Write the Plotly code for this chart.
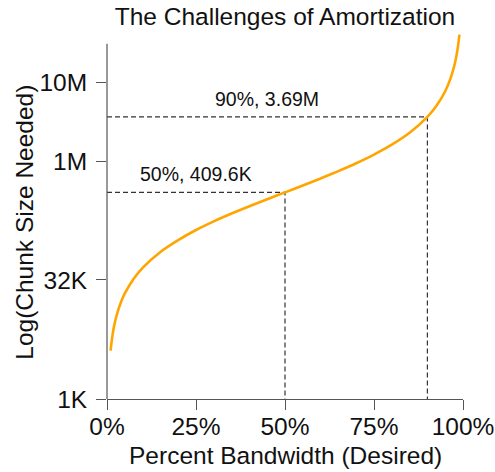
import plotly.graph_objects as go
import math

# Curve (fraction of bandwidth -> chunk size in bytes)
pct_bandwidth = [0.01, 0.015, 0.02, 0.03, 0.04, 0.05, 0.075, 0.10, 0.15, 0.20, 0.25,
                 0.30, 0.35, 0.40, 0.45, 0.50, 0.55, 0.60, 0.65, 0.70, 0.75, 0.80,
                 0.85, 0.90, 0.925, 0.95, 0.965, 0.975, 0.98, 0.985, 0.99]
chunk_size = [4.1e3, 6.2e3, 8.4e3, 12.7e3, 17.1e3, 21.6e3, 33.2e3, 45.5e3, 72.3e3, 102e3, 137e3,
              176e3, 221e3, 273e3, 335e3, 409.6e3, 501e3, 614e3, 761e3, 956e3, 1.23e6, 1.64e6,
              2.32e6, 3.69e6, 5.05e6, 7.78e6, 11.3e6, 16.0e6, 20.1e6, 26.9e6, 40.5e6]

marked_pct = [0.50, 0.90]
marked_size = [409.6e3, 3.69e6]
marked_labels = ["50%, 409.6K", "90%, 3.69M"]

y_tickvals = [1e3, 32e3, 1e6, 1e7]
y_ticktext = ["1K", "32K", "1M", "10M"]
x_tickvals = [0, 0.25, 0.5, 0.75, 1.0]
x_ticktext = ["0%", "25%", "50%", "75%", "100%"]

Y_MIN = 1e3
Y_LOG_RANGE = [3, 7.64]
SPINE_TOP = 3.1e7

FONT = "Liberation Sans, Arial, Helvetica, sans-serif"
AXCOL = "#555555"
TXT = "#111111"

W, H = 495, 472
ML, MR, MT, MB = 107, 32, 31.5, 73
PW, PH = W - ML - MR, H - MT - MB

fig = go.Figure()

for px_, sz in zip(marked_pct, marked_size):
    fig.add_trace(go.Scatter(
        x=[0, px_, px_], y=[sz, sz, Y_MIN], mode="lines",
        line=dict(color="#333333", width=1.2, dash="5px,3px"),
        hoverinfo="skip", showlegend=False))

fig.add_trace(go.Scatter(
    x=pct_bandwidth, y=chunk_size, mode="lines",
    line=dict(color="#FFA500", width=2.6, shape="spline", smoothing=0.8),
    showlegend=False))

for px_, sz, lab, xl in zip(marked_pct, marked_size, marked_labels, [0.086, 0.298]):
    fig.add_annotation(x=xl, y=math.log10(sz), xref="x", yref="y", text=lab,
                       showarrow=False, xanchor="left", yanchor="bottom", yshift=5,
                       font=dict(family=FONT, size=19.5, color=TXT))

# axis titles
fig.add_annotation(x=0.5, y=(399 - 456) / PH, xref="paper", yref="paper",
                   text="Percent Bandwidth (Desired)", showarrow=False,
                   xanchor="center", yanchor="middle",
                   font=dict(family=FONT, size=24.5, color=TXT))
fig.add_annotation(x=(24.5 - ML) / PW, y=(399 - 222) / PH, xref="paper", yref="paper",
                   text="Log(Chunk Size Needed)", showarrow=False, textangle=-90,
                   xanchor="center", yanchor="middle",
                   font=dict(family=FONT, size=24.5, color=TXT))

span = Y_LOG_RANGE[1] - Y_LOG_RANGE[0]
fig.add_shape(type="line", xref="paper", yref="paper", x0=0, x1=0, y0=0,
              y1=(math.log10(SPINE_TOP) - Y_LOG_RANGE[0]) / span,
              line=dict(color=AXCOL, width=1.2))

fig.update_layout(
    width=W, height=H,
    margin=dict(l=ML, r=MR, t=MT, b=MB, autoexpand=False),
    paper_bgcolor="white", plot_bgcolor="white",
    font=dict(family=FONT, size=24.5, color=TXT),
    title=dict(text="The Challenges of Amortization", x=0.5, xref="paper", xanchor="center",
               y=1 - 16 / H, yanchor="middle", yref="container",
               font=dict(family=FONT, size=24.5, color=TXT)),
    xaxis=dict(range=[0, 1], tickvals=x_tickvals, ticktext=x_ticktext, automargin=False,
               showgrid=False, zeroline=False, showline=True, linecolor=AXCOL, linewidth=1.2,
               ticks="outside", ticklen=10, tickcolor=AXCOL, tickwidth=1.2,
               ticklabelstandoff=-5,
               tickfont=dict(family=FONT, size=24.5, color=TXT)),
    yaxis=dict(type="log", range=Y_LOG_RANGE, tickvals=y_tickvals, ticktext=y_ticktext,
               automargin=False,
               showgrid=False, zeroline=False, showline=False,
               ticks="outside", ticklen=10, tickcolor=AXCOL, tickwidth=1.2,
               ticklabelstandoff=4,
               tickfont=dict(family=FONT, size=24.5, color=TXT)),
)

fig.write_html("out.html", config={"displayModeBar": False},
               post_script="document.body.style.margin='0px';")
